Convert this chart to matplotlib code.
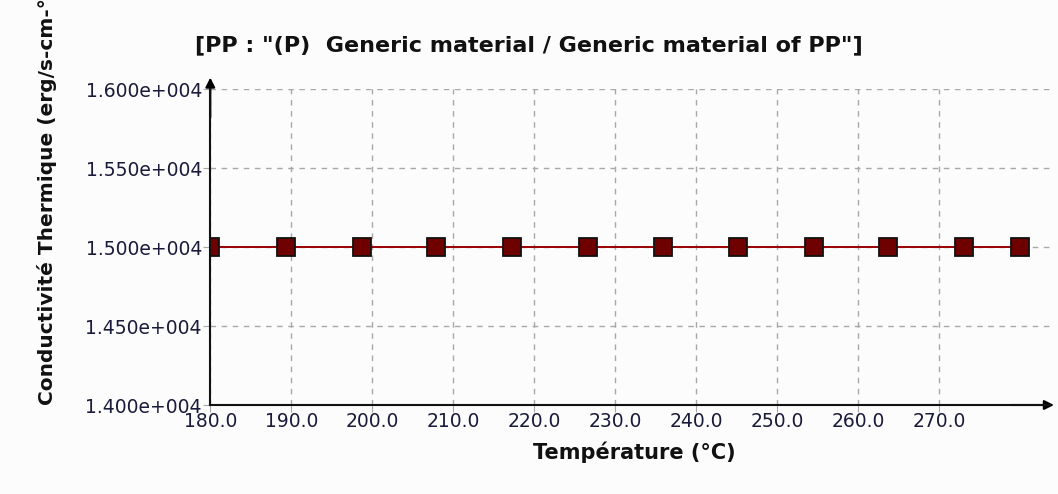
import matplotlib
matplotlib.use("Agg")
import matplotlib.pyplot as plt

# Thermal conductivity of generic PP versus temperature
temperature = [180.0, 189.4, 198.7, 207.9, 217.3, 226.6, 235.9, 245.1, 254.5, 263.7, 273.0, 280.0]
conductivity = [15000] * 12

x_ticks = [180, 190, 200, 210, 220, 230, 240, 250, 260, 270]
y_ticks = [14000, 14500, 15000, 15500, 16000]

title = '[PP : "(P)  Generic material / Generic material of PP"]'
x_label = "Température (°C)"
y_label = "Conductivité Thermique (erg/s-cm-°"

fig = plt.figure(figsize=(10.58, 4.94), dpi=100, facecolor="#fcfcfc")
ax = fig.add_axes([210.3 / 1058, 1 - 405 / 494, (1050 - 210.3) / 1058, (405 - 89) / 494])
ax.set_facecolor("#fcfcfc")

ax.plot(temperature, conductivity, color="#9a0000", lw=1.4, marker="s",
        markersize=13, markerfacecolor="#6e0000", markeredgecolor="#111111",
        markeredgewidth=1.3, zorder=3)

ax.set_xlim(180, 180 + (1050 - 210.3) / 8.1)
ax.set_ylim(14000, 16000)
ax.set_xticks(x_ticks)
ax.set_xticklabels([f"{t:.1f}" for t in x_ticks])
ax.set_yticks(y_ticks)
ax.set_yticklabels([f"{v / 10000:.3f}e+004" for v in y_ticks])

ax.grid(True, color="#a8a8a8", linestyle=(0, (4, 4)), linewidth=1)
ax.tick_params(axis="both", direction="out", length=5, color="#a8a8a8",
               labelsize=13.5, labelcolor="#1a1a3a", pad=1)
ax.tick_params(axis="x", pad=0)

for side in ("top", "right"):
    ax.spines[side].set_visible(False)
for side in ("left", "bottom"):
    ax.spines[side].set_linewidth(1.5)
    ax.spines[side].set_color("#111111")
    ax.spines[side].set_zorder(4)

# Arrow heads on the axis ends
ax.annotate("", xy=(0, 1.045), xytext=(0, 0.9), xycoords="axes fraction",
            arrowprops=dict(arrowstyle="-|>", color="black", lw=1.5,
                            mutation_scale=14), annotation_clip=False)
ax.annotate("", xy=(1.008, 0), xytext=(0.95, 0), xycoords="axes fraction",
            arrowprops=dict(arrowstyle="-|>", color="black", lw=1.5,
                            mutation_scale=14), annotation_clip=False)

fig.text(529 / 1058, 1 - 45 / 494, title, ha="center", va="center",
         fontsize=16, fontweight="bold", color="#111111")
fig.text(634 / 1058, 1 - 452 / 494, x_label, ha="center", va="center",
         fontsize=15, fontweight="bold", color="#111111")
fig.text(47 / 1058, 1 - 405 / 494, y_label, ha="center", va="bottom",
         rotation=90, fontsize=14.5, fontweight="bold", color="#111111")

fig.savefig("out.png", dpi=100, facecolor=fig.get_facecolor())
